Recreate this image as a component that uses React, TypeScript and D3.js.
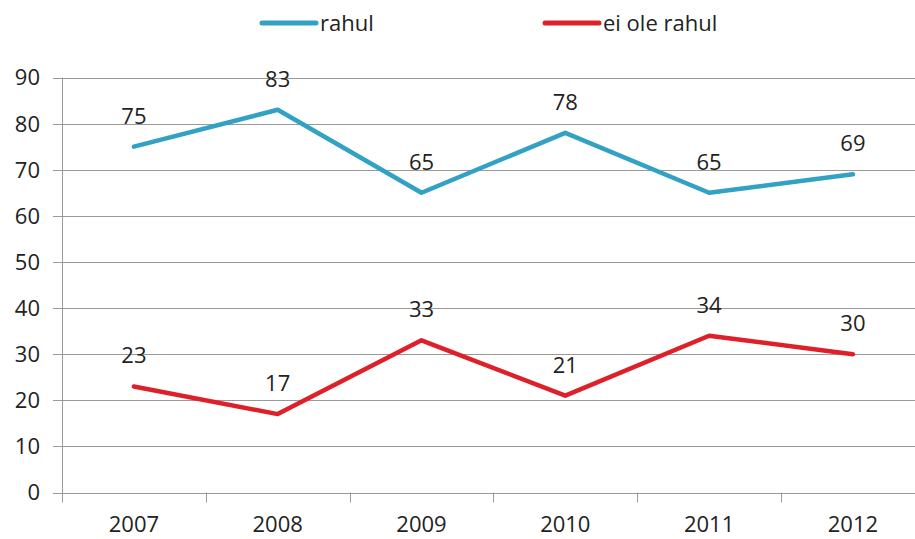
import React from "react";
import * as d3 from "d3";

const categories = ["2007", "2008", "2009", "2010", "2011", "2012"];
const rahul = [75, 83, 65, 78, 65, 69];
const eiOleRahul = [23, 17, 33, 21, 34, 30];
const yTicks = [0, 10, 20, 30, 40, 50, 60, 70, 80, 90];
const seriesNames = ["rahul", "ei ole rahul"];
const seriesColors = ["#31A2C4", "#DE202B"];

const W = 915, H = 539;
const left = 62, top = 77.5, bottom = 492.5;
const band = 143.8;
const FONT = "'Open Sans', sans-serif";

export default function App() {
  const x = d3.scaleBand<string>().domain(categories).range([left, left + band * categories.length]).padding(0);
  const y = d3.scaleLinear().domain([0, 90]).range([bottom, top]);
  const cx = (c: string) => (x(c) as number) + x.bandwidth() / 2;
  const line = d3.line<number>().x((_, i) => cx(categories[i])).y((d) => y(d));
  const series = [rahul, eiOleRahul];
  const legendX = [262, 545];

  return (
    <svg width={W} height={H} style={{ position: "absolute", left: 0, top: 0, background: "#fff" }} fontFamily={FONT}>
      <rect width={W} height={H} fill="#fff" />
      {yTicks.map((t) => (
        <g key={t}>
          <line x1={53} x2={W} y1={Math.round(y(t)) + 0.5} y2={Math.round(y(t)) + 0.5} stroke="#9a9a9a" strokeWidth={1} />
          <text x={40} y={y(t)} dy="0.36em" textAnchor="end" fontSize={22} fill="#222">{t}</text>
        </g>
      ))}
      <line x1={left + 0.5} x2={left + 0.5} y1={top} y2={bottom + 10} stroke="#9a9a9a" />
      {categories.map((c) => (
        <g key={c}>
          <line x1={Math.round((x(c) as number) + band) + 0.5} x2={Math.round((x(c) as number) + band) + 0.5} y1={bottom} y2={bottom + 10} stroke="#9a9a9a" />
          <text x={cx(c)} y={524} dy="0.36em" textAnchor="middle" fontSize={22} fill="#222">{c}</text>
        </g>
      ))}
      {series.map((s, si) => (
        <g key={si}>
          <path d={line(s) || ""} fill="none" stroke={seriesColors[si]} strokeWidth={4.5} strokeLinejoin="round" strokeLinecap="round" />
          {s.map((v, i) => (
            <text key={i} x={cx(categories[i])} y={y(v) - 31} dy="0.36em" textAnchor="middle" fontSize={22} fill="#222">{v}</text>
          ))}
        </g>
      ))}
      {seriesNames.map((n, i) => (
        <g key={n}>
          <line x1={legendX[i]} x2={legendX[i] + 54} y1={23} y2={23} stroke={seriesColors[i]} strokeWidth={5} strokeLinecap="round" />
          <text x={legendX[i] + 58} y={23} dy="0.36em" fontSize={22} fill="#222">{n}</text>
        </g>
      ))}
    </svg>
  );
}
